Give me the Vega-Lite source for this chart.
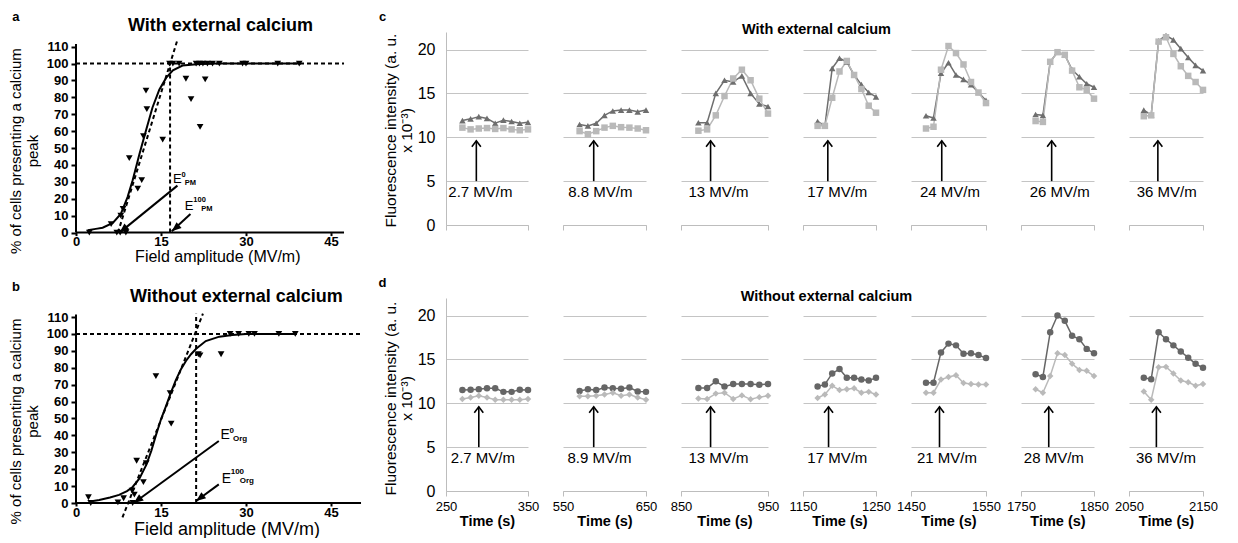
{
"$schema":"https://vega.github.io/schema/vega-lite/v6.json",
"background":"white",
"padding":{"left":7,"top":10,"right":0,"bottom":0},
"config":{"view":{"stroke":null},"font":"Liberation Sans","axis":{"labelColor":"black","titleColor":"black","domainColor":"black","tickColor":"black","labelOverlap":false}},
"datasets":{
"cells":[
{"p":"a","x":2.35,"y":0},{"p":"a","x":6.2,"y":5},{"p":"a","x":7.9,"y":10},{"p":"a","x":8.3,"y":14},{"p":"a","x":7.2,"y":0},{"p":"a","x":7.8,"y":0},{"p":"a","x":8.8,"y":0},{"p":"a","x":9.4,"y":44},{"p":"a","x":10.9,"y":26},{"p":"a","x":11.6,"y":31},{"p":"a","x":11.9,"y":57},{"p":"a","x":12.5,"y":73},{"p":"a","x":12.35,"y":84},{"p":"a","x":15.3,"y":55},{"p":"a","x":16.5,"y":100},{"p":"a","x":17.1,"y":100},{"p":"a","x":18.2,"y":100},{"p":"a","x":19.4,"y":91},{"p":"a","x":20.3,"y":79},{"p":"a","x":21.2,"y":100},{"p":"a","x":21.8,"y":100},{"p":"a","x":22.4,"y":100},{"p":"a","x":23.2,"y":100},{"p":"a","x":24.1,"y":100},{"p":"a","x":25.3,"y":100},{"p":"a","x":21.9,"y":62.5},{"p":"a","x":22.8,"y":90.6},{"p":"a","x":29.4,"y":100},{"p":"a","x":30,"y":100},{"p":"a","x":35.6,"y":100},{"p":"a","x":39.4,"y":100},
{"p":"b","x":2.2,"y":3.4},{"p":"b","x":2.6,"y":0},{"p":"b","x":7.4,"y":0.4},{"p":"b","x":8.4,"y":2.8},{"p":"b","x":10,"y":0},{"p":"b","x":9.9,"y":7.3},{"p":"b","x":10.3,"y":5},{"p":"b","x":10.7,"y":25},{"p":"b","x":11.9,"y":12.3},{"p":"b","x":12.4,"y":23.6},{"p":"b","x":14.1,"y":75},{"p":"b","x":16.6,"y":65},{"p":"b","x":16.8,"y":47},{"p":"b","x":21.6,"y":88},{"p":"b","x":21.9,"y":87.3},{"p":"b","x":25.6,"y":88},{"p":"b","x":27.2,"y":100},{"p":"b","x":28.7,"y":100},{"p":"b","x":30.5,"y":100},{"p":"b","x":31.5,"y":100},{"p":"b","x":35.8,"y":100},{"p":"b","x":38.7,"y":100}
],
"curve":[
{"p":"a","x":2.06,"y":1.4},{"p":"a","x":3.5,"y":2.2},{"p":"a","x":4.7,"y":2.9},{"p":"a","x":6.5,"y":5.7},{"p":"a","x":7.9,"y":11},{"p":"a","x":9.1,"y":21},{"p":"a","x":10,"y":31},{"p":"a","x":11.2,"y":46.5},{"p":"a","x":12.4,"y":61},{"p":"a","x":13.5,"y":74},{"p":"a","x":14.7,"y":84.5},{"p":"a","x":15.9,"y":91.5},{"p":"a","x":17.1,"y":96},{"p":"a","x":18.8,"y":98.8},{"p":"a","x":21.8,"y":99.8},{"p":"a","x":25,"y":100},{"p":"a","x":39.7,"y":100},
{"p":"b","x":2.5,"y":0.9},{"p":"b","x":4.1,"y":1.8},{"p":"b","x":6,"y":3.3},{"p":"b","x":7.6,"y":4.8},{"p":"b","x":9,"y":7},{"p":"b","x":10,"y":9.5},{"p":"b","x":11.2,"y":14.5},{"p":"b","x":12.4,"y":22.5},{"p":"b","x":13.3,"y":31},{"p":"b","x":14.1,"y":40},{"p":"b","x":15,"y":49.5},{"p":"b","x":15.9,"y":57.5},{"p":"b","x":16.6,"y":64},{"p":"b","x":17.6,"y":72.5},{"p":"b","x":18.5,"y":79},{"p":"b","x":19.4,"y":84},{"p":"b","x":20.3,"y":88},{"p":"b","x":21.2,"y":91.2},{"p":"b","x":22.9,"y":95.8},{"p":"b","x":25.3,"y":98.4},{"p":"b","x":27.6,"y":99.4},{"p":"b","x":30,"y":99.9},{"p":"b","x":39,"y":100}
],
"axl":[
{"p":"a","id":"x","x":0,"y":0},{"p":"a","id":"x","x":47.3,"y":0},{"p":"a","id":"y","x":0,"y":0},{"p":"a","id":"y","x":0,"y":111.5},
{"p":"b","id":"x","x":0,"y":0},{"p":"b","id":"x","x":50.3,"y":0},{"p":"b","id":"y","x":0,"y":0},{"p":"b","id":"y","x":0,"y":111.5}
],
"refs":[
{"p":"a","id":"h","x":0,"y":100},{"p":"a","id":"h","x":47.3,"y":100},
{"p":"a","id":"v","x":16.6,"y":0},{"p":"a","id":"v","x":16.6,"y":100},
{"p":"a","id":"t","x":7.4,"y":0},{"p":"a","id":"t","x":17.9,"y":114},
{"p":"b","id":"h","x":0,"y":100},{"p":"b","id":"h","x":50.3,"y":100},
{"p":"b","id":"v","x":21.2,"y":0},{"p":"b","id":"v","x":21.2,"y":112},
{"p":"b","id":"t","x":8.2,"y":-8.5},{"p":"b","id":"t","x":22.4,"y":112}
],
"arrows":[
{"p":"a","x":17.9,"y":27.8,"x2":7.7,"y2":0},{"p":"a","x":20.2,"y":11,"x2":16.9,"y2":0.8},
{"p":"b","x":25.2,"y":36.7,"x2":10.2,"y2":0},{"p":"b","x":25.2,"y":11,"x2":21.2,"y2":1.2}
],
"heads":[
{"p":"a","x":7.7,"y":0},{"p":"a","x":16.9,"y":0.8},{"p":"b","x":10.2,"y":0},{"p":"b","x":21.2,"y":1.2}
],
"texts":[
{"p":"a","k":"L","x":-10.6,"y":125.4,"text":"a"},
{"p":"a","k":"T","x":25.5,"y":119.2,"text":"With external calcium"},
{"p":"b","k":"L","x":-10.6,"y":125.4,"text":"b"},
{"p":"b","k":"T","x":28.3,"y":118.9,"text":"Without external calcium"},
{"p":"c1","k":"L","x":172.6,"y":23.3,"text":"c"},
{"p":"d1","k":"L","x":172.6,"y":23.2,"text":"d"},
{"p":"c4","k":"T","x":1168.5,"y":21.82,"text":"With external calcium"},
{"p":"d4","k":"T","x":1182.2,"y":21.66,"text":"Without external calcium"},
{"p":"a","k":"E","x":17.1,"y":29.2,"text":"E"},
{"p":"a","k":"s","x":18.6,"y":33.1,"text":"0"},
{"p":"a","k":"s","x":19.2,"y":28.1,"text":"PM"},
{"p":"a","k":"E","x":19.2,"y":13.4,"text":"E"},
{"p":"a","k":"s","x":20.7,"y":17.9,"text":"100"},
{"p":"a","k":"s","x":22.1,"y":13.0,"text":"PM"},
{"p":"b","k":"E","x":25.5,"y":37.7,"text":"E"},
{"p":"b","k":"s","x":27.1,"y":41.6,"text":"0"},
{"p":"b","k":"s","x":27.7,"y":36.7,"text":"Org"},
{"p":"b","k":"E","x":25.7,"y":12.0,"text":"E"},
{"p":"b","k":"s","x":27.3,"y":17.0,"text":"100"},
{"p":"b","k":"s","x":28.9,"y":12.0,"text":"Org"}
],
"stim":[
{"p":"c1","t":287,"lt":292,"label":"2.7 MV/m"},{"p":"c2","t":587,"lt":595,"label":"8.8 MV/m"},{"p":"c3","t":884,"lt":893,"label":"13 MV/m"},{"p":"c4","t":1184,"lt":1197,"label":"17 MV/m"},{"p":"c5","t":1491,"lt":1502,"label":"24 MV/m"},{"p":"c6","t":1792,"lt":1803,"label":"26 MV/m"},{"p":"c7","t":2089,"lt":2101,"label":"36 MV/m"},
{"p":"d1","t":290,"lt":295,"label":"2.7 MV/m"},{"p":"d2","t":587,"lt":594,"label":"8.9 MV/m"},{"p":"d3","t":884,"lt":893,"label":"13 MV/m"},{"p":"d4","t":1185,"lt":1197,"label":"17 MV/m"},{"p":"d5","t":1488,"lt":1498,"label":"21 MV/m"},{"p":"d6","t":1788,"lt":1795,"label":"28 MV/m"},{"p":"d7","t":2087,"lt":2100,"label":"36 MV/m"}
],
"ts":[
{"p":"c1","t":270,"A":11.9,"B":11.1},{"p":"c1","t":280,"A":12.1,"B":10.9},{"p":"c1","t":290,"A":12.35,"B":11.0},{"p":"c1","t":300,"A":12.15,"B":11.05},{"p":"c1","t":310,"A":11.6,"B":10.95},{"p":"c1","t":320,"A":11.95,"B":11.05},{"p":"c1","t":330,"A":11.8,"B":10.9},{"p":"c1","t":340,"A":11.6,"B":10.8},{"p":"c1","t":350,"A":11.7,"B":10.9},
{"p":"c2","t":570,"A":11.45,"B":10.7},{"p":"c2","t":580,"A":11.3,"B":10.35},{"p":"c2","t":590,"A":11.6,"B":10.7},{"p":"c2","t":600,"A":12.5,"B":11.1},{"p":"c2","t":610,"A":13.0,"B":11.3},{"p":"c2","t":620,"A":13.1,"B":11.15},{"p":"c2","t":630,"A":13.1,"B":11.1},{"p":"c2","t":640,"A":12.9,"B":11.0},{"p":"c2","t":650,"A":13.1,"B":10.8},
{"p":"c3","t":870,"A":11.65,"B":10.75},{"p":"c3","t":880,"A":11.65,"B":10.9},{"p":"c3","t":890,"A":15.0,"B":12.5},{"p":"c3","t":900,"A":16.5,"B":14.7},{"p":"c3","t":910,"A":16.3,"B":16.7},{"p":"c3","t":920,"A":17.0,"B":17.7},{"p":"c3","t":930,"A":15.0,"B":16.5},{"p":"c3","t":940,"A":13.8,"B":14.4},{"p":"c3","t":950,"A":13.5,"B":12.7},
{"p":"c4","t":1170,"A":11.8,"B":11.3},{"p":"c4","t":1180,"A":11.3,"B":11.3},{"p":"c4","t":1190,"A":17.85,"B":14.5},{"p":"c4","t":1200,"A":19.0,"B":17.5},{"p":"c4","t":1210,"A":18.6,"B":18.7},{"p":"c4","t":1220,"A":17.1,"B":17.1},{"p":"c4","t":1230,"A":16.0,"B":15.5},{"p":"c4","t":1240,"A":15.1,"B":13.6},{"p":"c4","t":1250,"A":14.6,"B":12.8},
{"p":"c5","t":1470,"A":12.45,"B":11.0},{"p":"c5","t":1480,"A":12.2,"B":11.2},{"p":"c5","t":1490,"A":17.3,"B":17.7},{"p":"c5","t":1500,"A":18.5,"B":20.4},{"p":"c5","t":1510,"A":17.1,"B":19.6},{"p":"c5","t":1520,"A":16.6,"B":18.3},{"p":"c5","t":1530,"A":16.0,"B":16.3},{"p":"c5","t":1540,"A":15.1,"B":15.1},{"p":"c5","t":1550,"A":14.2,"B":13.9},
{"p":"c6","t":1770,"A":12.6,"B":11.85},{"p":"c6","t":1780,"A":12.5,"B":11.75},{"p":"c6","t":1790,"A":18.6,"B":18.6},{"p":"c6","t":1800,"A":19.7,"B":19.7},{"p":"c6","t":1810,"A":19.4,"B":19.4},{"p":"c6","t":1820,"A":17.7,"B":17.6},{"p":"c6","t":1830,"A":16.9,"B":15.7},{"p":"c6","t":1840,"A":16.1,"B":15.4},{"p":"c6","t":1850,"A":15.7,"B":14.4},
{"p":"c7","t":2070,"A":13.1,"B":12.4},{"p":"c7","t":2080,"A":12.55,"B":12.5},{"p":"c7","t":2090,"A":21.0,"B":20.9},{"p":"c7","t":2100,"A":21.6,"B":21.4},{"p":"c7","t":2110,"A":21.1,"B":19.5},{"p":"c7","t":2120,"A":20.1,"B":18.1},{"p":"c7","t":2130,"A":19.1,"B":17.0},{"p":"c7","t":2140,"A":18.2,"B":16.3},{"p":"c7","t":2150,"A":17.6,"B":15.4},
{"p":"d1","t":270,"A":11.5,"B":10.5},{"p":"d1","t":280,"A":11.55,"B":10.65},{"p":"d1","t":290,"A":11.6,"B":10.85},{"p":"d1","t":300,"A":11.7,"B":10.65},{"p":"d1","t":310,"A":11.7,"B":10.4},{"p":"d1","t":320,"A":11.3,"B":10.4},{"p":"d1","t":330,"A":11.3,"B":10.4},{"p":"d1","t":340,"A":11.55,"B":10.4},{"p":"d1","t":350,"A":11.5,"B":10.5},
{"p":"d2","t":570,"A":11.4,"B":10.8},{"p":"d2","t":580,"A":11.6,"B":10.8},{"p":"d2","t":590,"A":11.5,"B":10.85},{"p":"d2","t":600,"A":11.8,"B":11.0},{"p":"d2","t":610,"A":11.7,"B":11.2},{"p":"d2","t":620,"A":11.65,"B":10.85},{"p":"d2","t":630,"A":11.8,"B":11.0},{"p":"d2","t":640,"A":11.35,"B":10.65},{"p":"d2","t":650,"A":11.3,"B":10.4},
{"p":"d3","t":870,"A":11.75,"B":10.55},{"p":"d3","t":880,"A":11.75,"B":10.5},{"p":"d3","t":890,"A":12.5,"B":11.1},{"p":"d3","t":900,"A":11.9,"B":11.2},{"p":"d3","t":910,"A":12.2,"B":10.5},{"p":"d3","t":920,"A":12.2,"B":10.9},{"p":"d3","t":930,"A":12.2,"B":10.45},{"p":"d3","t":940,"A":12.1,"B":10.7},{"p":"d3","t":950,"A":12.2,"B":10.85},
{"p":"d4","t":1170,"A":11.9,"B":10.6},{"p":"d4","t":1180,"A":12.15,"B":11.0},{"p":"d4","t":1190,"A":13.4,"B":12.0},{"p":"d4","t":1200,"A":13.9,"B":11.5},{"p":"d4","t":1210,"A":12.9,"B":11.6},{"p":"d4","t":1220,"A":12.9,"B":11.7},{"p":"d4","t":1230,"A":12.7,"B":11.2},{"p":"d4","t":1240,"A":12.6,"B":11.3},{"p":"d4","t":1250,"A":12.9,"B":11.0},
{"p":"d5","t":1470,"A":12.35,"B":11.2},{"p":"d5","t":1480,"A":12.35,"B":11.2},{"p":"d5","t":1490,"A":15.8,"B":12.7},{"p":"d5","t":1500,"A":16.8,"B":13.0},{"p":"d5","t":1510,"A":16.6,"B":13.2},{"p":"d5","t":1520,"A":15.65,"B":12.3},{"p":"d5","t":1530,"A":15.7,"B":12.2},{"p":"d5","t":1540,"A":15.5,"B":12.15},{"p":"d5","t":1550,"A":15.15,"B":12.15},
{"p":"d6","t":1770,"A":13.3,"B":11.6},{"p":"d6","t":1780,"A":13.0,"B":11.2},{"p":"d6","t":1790,"A":18.1,"B":13.1},{"p":"d6","t":1800,"A":20.0,"B":15.7},{"p":"d6","t":1810,"A":19.4,"B":15.5},{"p":"d6","t":1820,"A":17.7,"B":14.5},{"p":"d6","t":1830,"A":17.3,"B":13.8},{"p":"d6","t":1840,"A":16.2,"B":13.7},{"p":"d6","t":1850,"A":15.7,"B":13.1},
{"p":"d7","t":2070,"A":12.9,"B":11.35},{"p":"d7","t":2080,"A":12.75,"B":10.4},{"p":"d7","t":2090,"A":18.1,"B":14.1},{"p":"d7","t":2100,"A":17.3,"B":14.15},{"p":"d7","t":2110,"A":16.6,"B":13.4},{"p":"d7","t":2120,"A":15.9,"B":12.6},{"p":"d7","t":2130,"A":15.2,"B":12.4},{"p":"d7","t":2140,"A":14.5,"B":12.0},{"p":"d7","t":2150,"A":14.05,"B":12.2}
]
},
"spacing":12,
"resolve":{"scale":{"color":"independent","shape":"independent"}},
"vconcat":[
{"bounds":"flush","spacing":35,"hconcat":[
{"width":335,"height":200.6,
"encoding":{"x":{"field":"x","type":"quantitative","scale":{"domain":[0,59.12]},"axis":{"values":[0,15,30,45],"domain":false,"title":"Field amplitude (MV/m)","titleFontSize":16,"titleFontWeight":"normal","titleX":141.3,"titleY":28.5,"titleBaseline":"alphabetic","titleAlign":"center","labelFontSize":13,"labelFontWeight":"bold","labelPadding":0,"tickSize":3,"tickWidth":2,"grid":false,"labelFlush":false,"labelOverlap":false}},"y":{"field":"y","type":"quantitative","scale":{"domain":[0,118.66]},"axis":{"values":[0,10,20,30,40,50,60,70,80,90,100,110],"domain":false,"title":["% of cells presenting a calcium","peak"],"titleFontSize":15,"titleFontWeight":"normal","titleX":-56,"titleY":118.6,"titleAngle":270,"titleBaseline":"alphabetic","titleAlign":"center","titleLineHeight":17,"labelFontSize":13,"labelFontWeight":"bold","labelPadding":3,"tickSize":5,"tickWidth":2,"grid":false,"labelOverlap":false}}},
"layer":[
{"data":{"name":"axl"},"transform":[{"filter":"datum.p==='a'"}],"mark":{"type":"line","color":"black","strokeWidth":2},"encoding":{"detail":{"field":"id"}}},
{"data":{"name":"curve"},"transform":[{"filter":"datum.p==='a'"}],"mark":{"type":"line","color":"black","strokeWidth":2},"encoding":{}},
{"data":{"name":"refs"},"transform":[{"filter":"datum.p==='a'"}],"mark":{"type":"line","color":"black","strokeWidth":2,"strokeDash":[4,3]},"encoding":{"detail":{"field":"id"}}},
{"data":{"name":"cells"},"transform":[{"filter":"datum.p==='a'"}],"mark":{"type":"point","shape":"triangle-down","filled":true,"color":"black","opacity":1,"size":45}},
{"data":{"name":"arrows"},"transform":[{"filter":"datum.p==='a'"}],"mark":{"type":"rule","color":"black","strokeWidth":2},"encoding":{"x2":{"field":"x2"},"y2":{"field":"y2"}}},
{"data":{"name":"heads"},"transform":[{"filter":"datum.p==='a'"}],"mark":{"type":"point","shape":"M0,0L-0.45,1.1L0.45,1.1Z","filled":true,"color":"black","opacity":1,"size":300,"angle":230}},
{"data":{"name":"texts"},"transform":[{"filter":"datum.p==='a' && datum.k==='E'"}],"mark":{"type":"text","align":"left","baseline":"alphabetic","fontSize":13,"color":"black"},"encoding":{"text":{"field":"text"}}},
{"data":{"name":"texts"},"transform":[{"filter":"datum.p==='a' && datum.k==='s'"}],"mark":{"type":"text","align":"left","baseline":"alphabetic","fontSize":7.5,"fontWeight":"bold","color":"black"},"encoding":{"text":{"field":"text"}}},
{"data":{"name":"texts"},"transform":[{"filter":"datum.p==='a' && datum.k==='L'"}],"mark":{"type":"text","align":"center","baseline":"alphabetic","fontSize":13,"fontWeight":"bold","color":"black"},"encoding":{"text":{"field":"text"}}},
{"data":{"name":"texts"},"transform":[{"filter":"datum.p==='a' && datum.k==='T'"}],"mark":{"type":"text","align":"center","baseline":"alphabetic","fontSize":18,"fontWeight":"bold","color":"black"},"encoding":{"text":{"field":"text"}}}
]},
{"width":82,"height":193,"layer":[
{"data":{"name":"ts"},"transform":[{"filter":"datum.p==='c1'"},{"fold":["A","B"],"as":["s","v"]}],"encoding":{"x":{"field":"t","type":"quantitative","scale":{"domain":[250,350]},"axis":{"values":[250,350],"labels":false,"title":null,"tickSize":5,"grid":false,"domainColor":"#bdbdbd","tickColor":"#bdbdbd"}},"y":{"field":"v","type":"quantitative","scale":{"domain":[0,22]},"axis":{"values":[0,5,10,15,20],"grid":true,"gridColor":"#c4c4c4","domain":true,"domainColor":"#bdbdbd","ticks":false,"labelFontSize":16,"labelPadding":11,"title":["Fluorescence intensity (a. u.","x 10⁻³)"],"titleFontSize":15.5,"titleFontWeight":"normal","titleAngle":270,"titleBaseline":"alphabetic","titleAlign":"center","titleX":-51,"titleY":98,"titleLineHeight":16}},"color":{"field":"s","type":"nominal","scale":{"domain":["A","B"],"range":["#6e6e6e","#b9b9b9"]},"legend":null}},"layer":[{"mark":{"type":"line","strokeWidth":1.5}},{"mark":{"type":"point","filled":true,"opacity":1,"size":42},"encoding":{"shape":{"field":"s","type":"nominal","scale":{"domain":["A","B"],"range":["triangle-up","square"]},"legend":null}}}]},
{"data":{"name":"stim"},"transform":[{"filter":"datum.p==='c1'"}],"layer":[{"mark":{"type":"rule","color":"black","strokeWidth":1.6},"encoding":{"x":{"field":"t","type":"quantitative","scale":{"domain":[250,350]}},"y":{"datum":5},"y2":{"datum":9.6}}},{"mark":{"type":"point","shape":"M-0.9,1.2L0,0L0.9,1.2","size":100,"filled":false,"color":"black","strokeWidth":1.6,"opacity":1},"encoding":{"x":{"field":"t","type":"quantitative","scale":{"domain":[250,350]}},"y":{"datum":9.6}}},{"mark":{"type":"text","fontSize":15,"baseline":"middle","color":"black"},"encoding":{"x":{"field":"lt","type":"quantitative","scale":{"domain":[250,350]}},"y":{"datum":3.8},"text":{"field":"label"}}}]},
{"data":{"name":"texts"},"transform":[{"filter":"datum.p==='c1'"}],"mark":{"type":"text","align":"center","baseline":"alphabetic","fontSize":13,"fontWeight":"bold","color":"black"},"encoding":{"x":{"field":"x","type":"quantitative","scale":{"domain":[250,350]}},"y":{"field":"y","type":"quantitative","scale":{"domain":[0,22]}},"text":{"field":"text"}}}
]},
{"width":83,"height":193,"layer":[
{"data":{"name":"ts"},"transform":[{"filter":"datum.p==='c2'"},{"fold":["A","B"],"as":["s","v"]}],"encoding":{"x":{"field":"t","type":"quantitative","scale":{"domain":[550,650]},"axis":{"values":[550,650],"labels":false,"title":null,"tickSize":5,"grid":false,"domainColor":"#bdbdbd","tickColor":"#bdbdbd"}},"y":{"field":"v","type":"quantitative","scale":{"domain":[0,22]},"axis":{"values":[0,5,10,15,20],"grid":true,"gridColor":"#c4c4c4","domain":false,"ticks":false,"labels":false,"title":null}},"color":{"field":"s","type":"nominal","scale":{"domain":["A","B"],"range":["#6e6e6e","#b9b9b9"]},"legend":null}},"layer":[{"mark":{"type":"line","strokeWidth":1.5}},{"mark":{"type":"point","filled":true,"opacity":1,"size":42},"encoding":{"shape":{"field":"s","type":"nominal","scale":{"domain":["A","B"],"range":["triangle-up","square"]},"legend":null}}}]},
{"data":{"name":"stim"},"transform":[{"filter":"datum.p==='c2'"}],"layer":[{"mark":{"type":"rule","color":"black","strokeWidth":1.6},"encoding":{"x":{"field":"t","type":"quantitative","scale":{"domain":[550,650]}},"y":{"datum":5},"y2":{"datum":9.6}}},{"mark":{"type":"point","shape":"M-0.9,1.2L0,0L0.9,1.2","size":100,"filled":false,"color":"black","strokeWidth":1.6,"opacity":1},"encoding":{"x":{"field":"t","type":"quantitative","scale":{"domain":[550,650]}},"y":{"datum":9.6}}},{"mark":{"type":"text","fontSize":15,"baseline":"middle","color":"black"},"encoding":{"x":{"field":"lt","type":"quantitative","scale":{"domain":[550,650]}},"y":{"datum":3.8},"text":{"field":"label"}}}]}
]},
{"width":87,"height":193,"layer":[
{"data":{"name":"ts"},"transform":[{"filter":"datum.p==='c3'"},{"fold":["A","B"],"as":["s","v"]}],"encoding":{"x":{"field":"t","type":"quantitative","scale":{"domain":[850,950]},"axis":{"values":[850,950],"labels":false,"title":null,"tickSize":5,"grid":false,"domainColor":"#bdbdbd","tickColor":"#bdbdbd"}},"y":{"field":"v","type":"quantitative","scale":{"domain":[0,22]},"axis":{"values":[0,5,10,15,20],"grid":true,"gridColor":"#c4c4c4","domain":false,"ticks":false,"labels":false,"title":null}},"color":{"field":"s","type":"nominal","scale":{"domain":["A","B"],"range":["#6e6e6e","#b9b9b9"]},"legend":null}},"layer":[{"mark":{"type":"line","strokeWidth":1.5}},{"mark":{"type":"point","filled":true,"opacity":1,"size":42},"encoding":{"shape":{"field":"s","type":"nominal","scale":{"domain":["A","B"],"range":["triangle-up","square"]},"legend":null}}}]},
{"data":{"name":"stim"},"transform":[{"filter":"datum.p==='c3'"}],"layer":[{"mark":{"type":"rule","color":"black","strokeWidth":1.6},"encoding":{"x":{"field":"t","type":"quantitative","scale":{"domain":[850,950]}},"y":{"datum":5},"y2":{"datum":9.6}}},{"mark":{"type":"point","shape":"M-0.9,1.2L0,0L0.9,1.2","size":100,"filled":false,"color":"black","strokeWidth":1.6,"opacity":1},"encoding":{"x":{"field":"t","type":"quantitative","scale":{"domain":[850,950]}},"y":{"datum":9.6}}},{"mark":{"type":"text","fontSize":15,"baseline":"middle","color":"black"},"encoding":{"x":{"field":"lt","type":"quantitative","scale":{"domain":[850,950]}},"y":{"datum":3.8},"text":{"field":"label"}}}]}
]},
{"width":73,"height":193,"layer":[
{"data":{"name":"ts"},"transform":[{"filter":"datum.p==='c4'"},{"fold":["A","B"],"as":["s","v"]}],"encoding":{"x":{"field":"t","type":"quantitative","scale":{"domain":[1150,1250]},"axis":{"values":[1150,1250],"labels":false,"title":null,"tickSize":5,"grid":false,"domainColor":"#bdbdbd","tickColor":"#bdbdbd"}},"y":{"field":"v","type":"quantitative","scale":{"domain":[0,22]},"axis":{"values":[0,5,10,15,20],"grid":true,"gridColor":"#c4c4c4","domain":false,"ticks":false,"labels":false,"title":null}},"color":{"field":"s","type":"nominal","scale":{"domain":["A","B"],"range":["#6e6e6e","#b9b9b9"]},"legend":null}},"layer":[{"mark":{"type":"line","strokeWidth":1.5}},{"mark":{"type":"point","filled":true,"opacity":1,"size":42},"encoding":{"shape":{"field":"s","type":"nominal","scale":{"domain":["A","B"],"range":["triangle-up","square"]},"legend":null}}}]},
{"data":{"name":"stim"},"transform":[{"filter":"datum.p==='c4'"}],"layer":[{"mark":{"type":"rule","color":"black","strokeWidth":1.6},"encoding":{"x":{"field":"t","type":"quantitative","scale":{"domain":[1150,1250]}},"y":{"datum":5},"y2":{"datum":9.6}}},{"mark":{"type":"point","shape":"M-0.9,1.2L0,0L0.9,1.2","size":100,"filled":false,"color":"black","strokeWidth":1.6,"opacity":1},"encoding":{"x":{"field":"t","type":"quantitative","scale":{"domain":[1150,1250]}},"y":{"datum":9.6}}},{"mark":{"type":"text","fontSize":15,"baseline":"middle","color":"black"},"encoding":{"x":{"field":"lt","type":"quantitative","scale":{"domain":[1150,1250]}},"y":{"datum":3.8},"text":{"field":"label"}}}]},
{"data":{"name":"texts"},"transform":[{"filter":"datum.p==='c4'"}],"mark":{"type":"text","align":"center","baseline":"alphabetic","fontSize":14.5,"fontWeight":"bold","color":"black"},"encoding":{"x":{"field":"x","type":"quantitative","scale":{"domain":[1150,1250]}},"y":{"field":"y","type":"quantitative","scale":{"domain":[0,22]}},"text":{"field":"text"}}}
]},
{"width":75,"height":193,"layer":[
{"data":{"name":"ts"},"transform":[{"filter":"datum.p==='c5'"},{"fold":["A","B"],"as":["s","v"]}],"encoding":{"x":{"field":"t","type":"quantitative","scale":{"domain":[1450,1550]},"axis":{"values":[1450,1550],"labels":false,"title":null,"tickSize":5,"grid":false,"domainColor":"#bdbdbd","tickColor":"#bdbdbd"}},"y":{"field":"v","type":"quantitative","scale":{"domain":[0,22]},"axis":{"values":[0,5,10,15,20],"grid":true,"gridColor":"#c4c4c4","domain":false,"ticks":false,"labels":false,"title":null}},"color":{"field":"s","type":"nominal","scale":{"domain":["A","B"],"range":["#6e6e6e","#b9b9b9"]},"legend":null}},"layer":[{"mark":{"type":"line","strokeWidth":1.5}},{"mark":{"type":"point","filled":true,"opacity":1,"size":42},"encoding":{"shape":{"field":"s","type":"nominal","scale":{"domain":["A","B"],"range":["triangle-up","square"]},"legend":null}}}]},
{"data":{"name":"stim"},"transform":[{"filter":"datum.p==='c5'"}],"layer":[{"mark":{"type":"rule","color":"black","strokeWidth":1.6},"encoding":{"x":{"field":"t","type":"quantitative","scale":{"domain":[1450,1550]}},"y":{"datum":5},"y2":{"datum":9.6}}},{"mark":{"type":"point","shape":"M-0.9,1.2L0,0L0.9,1.2","size":100,"filled":false,"color":"black","strokeWidth":1.6,"opacity":1},"encoding":{"x":{"field":"t","type":"quantitative","scale":{"domain":[1450,1550]}},"y":{"datum":9.6}}},{"mark":{"type":"text","fontSize":15,"baseline":"middle","color":"black"},"encoding":{"x":{"field":"lt","type":"quantitative","scale":{"domain":[1450,1550]}},"y":{"datum":3.8},"text":{"field":"label"}}}]}
]},
{"width":73,"height":193,"layer":[
{"data":{"name":"ts"},"transform":[{"filter":"datum.p==='c6'"},{"fold":["A","B"],"as":["s","v"]}],"encoding":{"x":{"field":"t","type":"quantitative","scale":{"domain":[1750,1850]},"axis":{"values":[1750,1850],"labels":false,"title":null,"tickSize":5,"grid":false,"domainColor":"#bdbdbd","tickColor":"#bdbdbd"}},"y":{"field":"v","type":"quantitative","scale":{"domain":[0,22]},"axis":{"values":[0,5,10,15,20],"grid":true,"gridColor":"#c4c4c4","domain":false,"ticks":false,"labels":false,"title":null}},"color":{"field":"s","type":"nominal","scale":{"domain":["A","B"],"range":["#6e6e6e","#b9b9b9"]},"legend":null}},"layer":[{"mark":{"type":"line","strokeWidth":1.5}},{"mark":{"type":"point","filled":true,"opacity":1,"size":42},"encoding":{"shape":{"field":"s","type":"nominal","scale":{"domain":["A","B"],"range":["triangle-up","square"]},"legend":null}}}]},
{"data":{"name":"stim"},"transform":[{"filter":"datum.p==='c6'"}],"layer":[{"mark":{"type":"rule","color":"black","strokeWidth":1.6},"encoding":{"x":{"field":"t","type":"quantitative","scale":{"domain":[1750,1850]}},"y":{"datum":5},"y2":{"datum":9.6}}},{"mark":{"type":"point","shape":"M-0.9,1.2L0,0L0.9,1.2","size":100,"filled":false,"color":"black","strokeWidth":1.6,"opacity":1},"encoding":{"x":{"field":"t","type":"quantitative","scale":{"domain":[1750,1850]}},"y":{"datum":9.6}}},{"mark":{"type":"text","fontSize":15,"baseline":"middle","color":"black"},"encoding":{"x":{"field":"lt","type":"quantitative","scale":{"domain":[1750,1850]}},"y":{"datum":3.8},"text":{"field":"label"}}}]}
]},
{"width":74,"height":193,"layer":[
{"data":{"name":"ts"},"transform":[{"filter":"datum.p==='c7'"},{"fold":["A","B"],"as":["s","v"]}],"encoding":{"x":{"field":"t","type":"quantitative","scale":{"domain":[2050,2150]},"axis":{"values":[2050,2150],"labels":false,"title":null,"tickSize":5,"grid":false,"domainColor":"#bdbdbd","tickColor":"#bdbdbd"}},"y":{"field":"v","type":"quantitative","scale":{"domain":[0,22]},"axis":{"values":[0,5,10,15,20],"grid":true,"gridColor":"#c4c4c4","domain":false,"ticks":false,"labels":false,"title":null}},"color":{"field":"s","type":"nominal","scale":{"domain":["A","B"],"range":["#6e6e6e","#b9b9b9"]},"legend":null}},"layer":[{"mark":{"type":"line","strokeWidth":1.5}},{"mark":{"type":"point","filled":true,"opacity":1,"size":42},"encoding":{"shape":{"field":"s","type":"nominal","scale":{"domain":["A","B"],"range":["triangle-up","square"]},"legend":null}}}]},
{"data":{"name":"stim"},"transform":[{"filter":"datum.p==='c7'"}],"layer":[{"mark":{"type":"rule","color":"black","strokeWidth":1.6},"encoding":{"x":{"field":"t","type":"quantitative","scale":{"domain":[2050,2150]}},"y":{"datum":5},"y2":{"datum":9.6}}},{"mark":{"type":"point","shape":"M-0.9,1.2L0,0L0.9,1.2","size":100,"filled":false,"color":"black","strokeWidth":1.6,"opacity":1},"encoding":{"x":{"field":"t","type":"quantitative","scale":{"domain":[2050,2150]}},"y":{"datum":9.6}}},{"mark":{"type":"text","fontSize":15,"baseline":"middle","color":"black"},"encoding":{"x":{"field":"lt","type":"quantitative","scale":{"domain":[2050,2150]}},"y":{"datum":3.8},"text":{"field":"label"}}}]}
]}
]},
{"bounds":"flush","spacing":35,"hconcat":[
{"width":335,"height":205,
"encoding":{"x":{"field":"x","type":"quantitative","scale":{"domain":[0,59.12]},"axis":{"values":[0,15,30,45],"domain":false,"title":"Field amplitude (MV/m)","titleFontSize":18,"titleFontWeight":"normal","titleX":150.5,"titleY":31,"titleBaseline":"alphabetic","titleAlign":"center","labelFontSize":13,"labelFontWeight":"bold","labelPadding":0,"tickSize":3,"tickWidth":2,"grid":false,"labelFlush":false,"labelOverlap":false}},"y":{"field":"y","type":"quantitative","scale":{"domain":[0,121.26]},"axis":{"values":[0,10,20,30,40,50,60,70,80,90,100,110],"domain":false,"title":["% of cells presenting a calcium","peak"],"titleFontSize":15,"titleFontWeight":"normal","titleX":-56,"titleY":123,"titleAngle":270,"titleBaseline":"alphabetic","titleAlign":"center","titleLineHeight":17,"labelFontSize":13,"labelFontWeight":"bold","labelPadding":3,"tickSize":5,"tickWidth":2,"grid":false,"labelOverlap":false}}},
"layer":[
{"data":{"name":"axl"},"transform":[{"filter":"datum.p==='b'"}],"mark":{"type":"line","color":"black","strokeWidth":2},"encoding":{"detail":{"field":"id"}}},
{"data":{"name":"curve"},"transform":[{"filter":"datum.p==='b'"}],"mark":{"type":"line","color":"black","strokeWidth":2},"encoding":{}},
{"data":{"name":"refs"},"transform":[{"filter":"datum.p==='b'"}],"mark":{"type":"line","color":"black","strokeWidth":2,"strokeDash":[4,3]},"encoding":{"detail":{"field":"id"}}},
{"data":{"name":"cells"},"transform":[{"filter":"datum.p==='b'"}],"mark":{"type":"point","shape":"triangle-down","filled":true,"color":"black","opacity":1,"size":45}},
{"data":{"name":"arrows"},"transform":[{"filter":"datum.p==='b'"}],"mark":{"type":"rule","color":"black","strokeWidth":2},"encoding":{"x2":{"field":"x2"},"y2":{"field":"y2"}}},
{"data":{"name":"heads"},"transform":[{"filter":"datum.p==='b'"}],"mark":{"type":"point","shape":"M0,0L-0.45,1.1L0.45,1.1Z","filled":true,"color":"black","opacity":1,"size":300,"angle":233}},
{"data":{"name":"texts"},"transform":[{"filter":"datum.p==='b' && datum.k==='E'"}],"mark":{"type":"text","align":"left","baseline":"alphabetic","fontSize":14,"color":"black"},"encoding":{"text":{"field":"text"}}},
{"data":{"name":"texts"},"transform":[{"filter":"datum.p==='b' && datum.k==='s'"}],"mark":{"type":"text","align":"left","baseline":"alphabetic","fontSize":8,"fontWeight":"bold","color":"black"},"encoding":{"text":{"field":"text"}}},
{"data":{"name":"texts"},"transform":[{"filter":"datum.p==='b' && datum.k==='L'"}],"mark":{"type":"text","align":"center","baseline":"alphabetic","fontSize":13,"fontWeight":"bold","color":"black"},"encoding":{"text":{"field":"text"}}},
{"data":{"name":"texts"},"transform":[{"filter":"datum.p==='b' && datum.k==='T'"}],"mark":{"type":"text","align":"center","baseline":"alphabetic","fontSize":18,"fontWeight":"bold","color":"black"},"encoding":{"text":{"field":"text"}}}
]},
{"width":82,"height":193,"layer":[
{"data":{"name":"ts"},"transform":[{"filter":"datum.p==='d1'"},{"fold":["A","B"],"as":["s","v"]}],"encoding":{"x":{"field":"t","type":"quantitative","scale":{"domain":[250,350]},"axis":{"values":[250,350],"format":"d","labelFontSize":13,"labelPadding":4,"title":"Time (s)","titleFontSize":14.5,"titleFontWeight":"bold","titleY":34.4,"titleBaseline":"alphabetic","tickSize":5,"grid":false,"domainColor":"#bdbdbd","tickColor":"#bdbdbd","labelFlush":false,"labelOverlap":false}},"y":{"field":"v","type":"quantitative","scale":{"domain":[0,22]},"axis":{"values":[0,5,10,15,20],"grid":true,"gridColor":"#c4c4c4","domain":true,"domainColor":"#bdbdbd","ticks":false,"labelFontSize":16,"labelPadding":11,"title":["Fluorescence intensity (a. u.","x 10⁻³)"],"titleFontSize":15.5,"titleFontWeight":"normal","titleAngle":270,"titleBaseline":"alphabetic","titleAlign":"center","titleX":-51,"titleY":100,"titleLineHeight":16}},"color":{"field":"s","type":"nominal","scale":{"domain":["A","B"],"range":["#666666","#bababa"]},"legend":null}},"layer":[{"mark":{"type":"line","strokeWidth":1.5}},{"mark":{"type":"point","filled":true,"opacity":1,"size":42},"encoding":{"shape":{"field":"s","type":"nominal","scale":{"domain":["A","B"],"range":["circle","diamond"]},"legend":null}}}]},
{"data":{"name":"stim"},"transform":[{"filter":"datum.p==='d1'"}],"layer":[{"mark":{"type":"rule","color":"black","strokeWidth":1.6},"encoding":{"x":{"field":"t","type":"quantitative","scale":{"domain":[250,350]}},"y":{"datum":5},"y2":{"datum":9.6}}},{"mark":{"type":"point","shape":"M-0.9,1.2L0,0L0.9,1.2","size":100,"filled":false,"color":"black","strokeWidth":1.6,"opacity":1},"encoding":{"x":{"field":"t","type":"quantitative","scale":{"domain":[250,350]}},"y":{"datum":9.6}}},{"mark":{"type":"text","fontSize":15,"baseline":"middle","color":"black"},"encoding":{"x":{"field":"lt","type":"quantitative","scale":{"domain":[250,350]}},"y":{"datum":3.8},"text":{"field":"label"}}}]},
{"data":{"name":"texts"},"transform":[{"filter":"datum.p==='d1'"}],"mark":{"type":"text","align":"center","baseline":"alphabetic","fontSize":13,"fontWeight":"bold","color":"black"},"encoding":{"x":{"field":"x","type":"quantitative","scale":{"domain":[250,350]}},"y":{"field":"y","type":"quantitative","scale":{"domain":[0,22]}},"text":{"field":"text"}}}
]},
{"width":83,"height":193,"layer":[
{"data":{"name":"ts"},"transform":[{"filter":"datum.p==='d2'"},{"fold":["A","B"],"as":["s","v"]}],"encoding":{"x":{"field":"t","type":"quantitative","scale":{"domain":[550,650]},"axis":{"values":[550,650],"format":"d","labelFontSize":13,"labelPadding":4,"title":"Time (s)","titleFontSize":14.5,"titleFontWeight":"bold","titleY":34.4,"titleBaseline":"alphabetic","tickSize":5,"grid":false,"domainColor":"#bdbdbd","tickColor":"#bdbdbd","labelFlush":false,"labelOverlap":false}},"y":{"field":"v","type":"quantitative","scale":{"domain":[0,22]},"axis":{"values":[0,5,10,15,20],"grid":true,"gridColor":"#c4c4c4","domain":false,"ticks":false,"labels":false,"title":null}},"color":{"field":"s","type":"nominal","scale":{"domain":["A","B"],"range":["#666666","#bababa"]},"legend":null}},"layer":[{"mark":{"type":"line","strokeWidth":1.5}},{"mark":{"type":"point","filled":true,"opacity":1,"size":42},"encoding":{"shape":{"field":"s","type":"nominal","scale":{"domain":["A","B"],"range":["circle","diamond"]},"legend":null}}}]},
{"data":{"name":"stim"},"transform":[{"filter":"datum.p==='d2'"}],"layer":[{"mark":{"type":"rule","color":"black","strokeWidth":1.6},"encoding":{"x":{"field":"t","type":"quantitative","scale":{"domain":[550,650]}},"y":{"datum":5},"y2":{"datum":9.6}}},{"mark":{"type":"point","shape":"M-0.9,1.2L0,0L0.9,1.2","size":100,"filled":false,"color":"black","strokeWidth":1.6,"opacity":1},"encoding":{"x":{"field":"t","type":"quantitative","scale":{"domain":[550,650]}},"y":{"datum":9.6}}},{"mark":{"type":"text","fontSize":15,"baseline":"middle","color":"black"},"encoding":{"x":{"field":"lt","type":"quantitative","scale":{"domain":[550,650]}},"y":{"datum":3.8},"text":{"field":"label"}}}]}
]},
{"width":87,"height":193,"layer":[
{"data":{"name":"ts"},"transform":[{"filter":"datum.p==='d3'"},{"fold":["A","B"],"as":["s","v"]}],"encoding":{"x":{"field":"t","type":"quantitative","scale":{"domain":[850,950]},"axis":{"values":[850,950],"format":"d","labelFontSize":13,"labelPadding":4,"title":"Time (s)","titleFontSize":14.5,"titleFontWeight":"bold","titleY":34.4,"titleBaseline":"alphabetic","tickSize":5,"grid":false,"domainColor":"#bdbdbd","tickColor":"#bdbdbd","labelFlush":false,"labelOverlap":false}},"y":{"field":"v","type":"quantitative","scale":{"domain":[0,22]},"axis":{"values":[0,5,10,15,20],"grid":true,"gridColor":"#c4c4c4","domain":false,"ticks":false,"labels":false,"title":null}},"color":{"field":"s","type":"nominal","scale":{"domain":["A","B"],"range":["#666666","#bababa"]},"legend":null}},"layer":[{"mark":{"type":"line","strokeWidth":1.5}},{"mark":{"type":"point","filled":true,"opacity":1,"size":42},"encoding":{"shape":{"field":"s","type":"nominal","scale":{"domain":["A","B"],"range":["circle","diamond"]},"legend":null}}}]},
{"data":{"name":"stim"},"transform":[{"filter":"datum.p==='d3'"}],"layer":[{"mark":{"type":"rule","color":"black","strokeWidth":1.6},"encoding":{"x":{"field":"t","type":"quantitative","scale":{"domain":[850,950]}},"y":{"datum":5},"y2":{"datum":9.6}}},{"mark":{"type":"point","shape":"M-0.9,1.2L0,0L0.9,1.2","size":100,"filled":false,"color":"black","strokeWidth":1.6,"opacity":1},"encoding":{"x":{"field":"t","type":"quantitative","scale":{"domain":[850,950]}},"y":{"datum":9.6}}},{"mark":{"type":"text","fontSize":15,"baseline":"middle","color":"black"},"encoding":{"x":{"field":"lt","type":"quantitative","scale":{"domain":[850,950]}},"y":{"datum":3.8},"text":{"field":"label"}}}]}
]},
{"width":73,"height":193,"layer":[
{"data":{"name":"ts"},"transform":[{"filter":"datum.p==='d4'"},{"fold":["A","B"],"as":["s","v"]}],"encoding":{"x":{"field":"t","type":"quantitative","scale":{"domain":[1150,1250]},"axis":{"values":[1150,1250],"format":"d","labelFontSize":13,"labelPadding":4,"title":"Time (s)","titleFontSize":14.5,"titleFontWeight":"bold","titleY":34.4,"titleBaseline":"alphabetic","tickSize":5,"grid":false,"domainColor":"#bdbdbd","tickColor":"#bdbdbd","labelFlush":false,"labelOverlap":false}},"y":{"field":"v","type":"quantitative","scale":{"domain":[0,22]},"axis":{"values":[0,5,10,15,20],"grid":true,"gridColor":"#c4c4c4","domain":false,"ticks":false,"labels":false,"title":null}},"color":{"field":"s","type":"nominal","scale":{"domain":["A","B"],"range":["#666666","#bababa"]},"legend":null}},"layer":[{"mark":{"type":"line","strokeWidth":1.5}},{"mark":{"type":"point","filled":true,"opacity":1,"size":42},"encoding":{"shape":{"field":"s","type":"nominal","scale":{"domain":["A","B"],"range":["circle","diamond"]},"legend":null}}}]},
{"data":{"name":"stim"},"transform":[{"filter":"datum.p==='d4'"}],"layer":[{"mark":{"type":"rule","color":"black","strokeWidth":1.6},"encoding":{"x":{"field":"t","type":"quantitative","scale":{"domain":[1150,1250]}},"y":{"datum":5},"y2":{"datum":9.6}}},{"mark":{"type":"point","shape":"M-0.9,1.2L0,0L0.9,1.2","size":100,"filled":false,"color":"black","strokeWidth":1.6,"opacity":1},"encoding":{"x":{"field":"t","type":"quantitative","scale":{"domain":[1150,1250]}},"y":{"datum":9.6}}},{"mark":{"type":"text","fontSize":15,"baseline":"middle","color":"black"},"encoding":{"x":{"field":"lt","type":"quantitative","scale":{"domain":[1150,1250]}},"y":{"datum":3.8},"text":{"field":"label"}}}]},
{"data":{"name":"texts"},"transform":[{"filter":"datum.p==='d4'"}],"mark":{"type":"text","align":"center","baseline":"alphabetic","fontSize":14.5,"fontWeight":"bold","color":"black"},"encoding":{"x":{"field":"x","type":"quantitative","scale":{"domain":[1150,1250]}},"y":{"field":"y","type":"quantitative","scale":{"domain":[0,22]}},"text":{"field":"text"}}}
]},
{"width":75,"height":193,"layer":[
{"data":{"name":"ts"},"transform":[{"filter":"datum.p==='d5'"},{"fold":["A","B"],"as":["s","v"]}],"encoding":{"x":{"field":"t","type":"quantitative","scale":{"domain":[1450,1550]},"axis":{"values":[1450,1550],"format":"d","labelFontSize":13,"labelPadding":4,"title":"Time (s)","titleFontSize":14.5,"titleFontWeight":"bold","titleY":34.4,"titleBaseline":"alphabetic","tickSize":5,"grid":false,"domainColor":"#bdbdbd","tickColor":"#bdbdbd","labelFlush":false,"labelOverlap":false}},"y":{"field":"v","type":"quantitative","scale":{"domain":[0,22]},"axis":{"values":[0,5,10,15,20],"grid":true,"gridColor":"#c4c4c4","domain":false,"ticks":false,"labels":false,"title":null}},"color":{"field":"s","type":"nominal","scale":{"domain":["A","B"],"range":["#666666","#bababa"]},"legend":null}},"layer":[{"mark":{"type":"line","strokeWidth":1.5}},{"mark":{"type":"point","filled":true,"opacity":1,"size":42},"encoding":{"shape":{"field":"s","type":"nominal","scale":{"domain":["A","B"],"range":["circle","diamond"]},"legend":null}}}]},
{"data":{"name":"stim"},"transform":[{"filter":"datum.p==='d5'"}],"layer":[{"mark":{"type":"rule","color":"black","strokeWidth":1.6},"encoding":{"x":{"field":"t","type":"quantitative","scale":{"domain":[1450,1550]}},"y":{"datum":5},"y2":{"datum":9.6}}},{"mark":{"type":"point","shape":"M-0.9,1.2L0,0L0.9,1.2","size":100,"filled":false,"color":"black","strokeWidth":1.6,"opacity":1},"encoding":{"x":{"field":"t","type":"quantitative","scale":{"domain":[1450,1550]}},"y":{"datum":9.6}}},{"mark":{"type":"text","fontSize":15,"baseline":"middle","color":"black"},"encoding":{"x":{"field":"lt","type":"quantitative","scale":{"domain":[1450,1550]}},"y":{"datum":3.8},"text":{"field":"label"}}}]}
]},
{"width":73,"height":193,"layer":[
{"data":{"name":"ts"},"transform":[{"filter":"datum.p==='d6'"},{"fold":["A","B"],"as":["s","v"]}],"encoding":{"x":{"field":"t","type":"quantitative","scale":{"domain":[1750,1850]},"axis":{"values":[1750,1850],"format":"d","labelFontSize":13,"labelPadding":4,"title":"Time (s)","titleFontSize":14.5,"titleFontWeight":"bold","titleY":34.4,"titleBaseline":"alphabetic","tickSize":5,"grid":false,"domainColor":"#bdbdbd","tickColor":"#bdbdbd","labelFlush":false,"labelOverlap":false}},"y":{"field":"v","type":"quantitative","scale":{"domain":[0,22]},"axis":{"values":[0,5,10,15,20],"grid":true,"gridColor":"#c4c4c4","domain":false,"ticks":false,"labels":false,"title":null}},"color":{"field":"s","type":"nominal","scale":{"domain":["A","B"],"range":["#666666","#bababa"]},"legend":null}},"layer":[{"mark":{"type":"line","strokeWidth":1.5}},{"mark":{"type":"point","filled":true,"opacity":1,"size":42},"encoding":{"shape":{"field":"s","type":"nominal","scale":{"domain":["A","B"],"range":["circle","diamond"]},"legend":null}}}]},
{"data":{"name":"stim"},"transform":[{"filter":"datum.p==='d6'"}],"layer":[{"mark":{"type":"rule","color":"black","strokeWidth":1.6},"encoding":{"x":{"field":"t","type":"quantitative","scale":{"domain":[1750,1850]}},"y":{"datum":5},"y2":{"datum":9.6}}},{"mark":{"type":"point","shape":"M-0.9,1.2L0,0L0.9,1.2","size":100,"filled":false,"color":"black","strokeWidth":1.6,"opacity":1},"encoding":{"x":{"field":"t","type":"quantitative","scale":{"domain":[1750,1850]}},"y":{"datum":9.6}}},{"mark":{"type":"text","fontSize":15,"baseline":"middle","color":"black"},"encoding":{"x":{"field":"lt","type":"quantitative","scale":{"domain":[1750,1850]}},"y":{"datum":3.8},"text":{"field":"label"}}}]}
]},
{"width":74,"height":193,"layer":[
{"data":{"name":"ts"},"transform":[{"filter":"datum.p==='d7'"},{"fold":["A","B"],"as":["s","v"]}],"encoding":{"x":{"field":"t","type":"quantitative","scale":{"domain":[2050,2150]},"axis":{"values":[2050,2150],"format":"d","labelFontSize":13,"labelPadding":4,"title":"Time (s)","titleFontSize":14.5,"titleFontWeight":"bold","titleY":34.4,"titleBaseline":"alphabetic","tickSize":5,"grid":false,"domainColor":"#bdbdbd","tickColor":"#bdbdbd","labelFlush":false,"labelOverlap":false}},"y":{"field":"v","type":"quantitative","scale":{"domain":[0,22]},"axis":{"values":[0,5,10,15,20],"grid":true,"gridColor":"#c4c4c4","domain":false,"ticks":false,"labels":false,"title":null}},"color":{"field":"s","type":"nominal","scale":{"domain":["A","B"],"range":["#666666","#bababa"]},"legend":null}},"layer":[{"mark":{"type":"line","strokeWidth":1.5}},{"mark":{"type":"point","filled":true,"opacity":1,"size":42},"encoding":{"shape":{"field":"s","type":"nominal","scale":{"domain":["A","B"],"range":["circle","diamond"]},"legend":null}}}]},
{"data":{"name":"stim"},"transform":[{"filter":"datum.p==='d7'"}],"layer":[{"mark":{"type":"rule","color":"black","strokeWidth":1.6},"encoding":{"x":{"field":"t","type":"quantitative","scale":{"domain":[2050,2150]}},"y":{"datum":5},"y2":{"datum":9.6}}},{"mark":{"type":"point","shape":"M-0.9,1.2L0,0L0.9,1.2","size":100,"filled":false,"color":"black","strokeWidth":1.6,"opacity":1},"encoding":{"x":{"field":"t","type":"quantitative","scale":{"domain":[2050,2150]}},"y":{"datum":9.6}}},{"mark":{"type":"text","fontSize":15,"baseline":"middle","color":"black"},"encoding":{"x":{"field":"lt","type":"quantitative","scale":{"domain":[2050,2150]}},"y":{"datum":3.8},"text":{"field":"label"}}}]}
]}
]}
]
}
